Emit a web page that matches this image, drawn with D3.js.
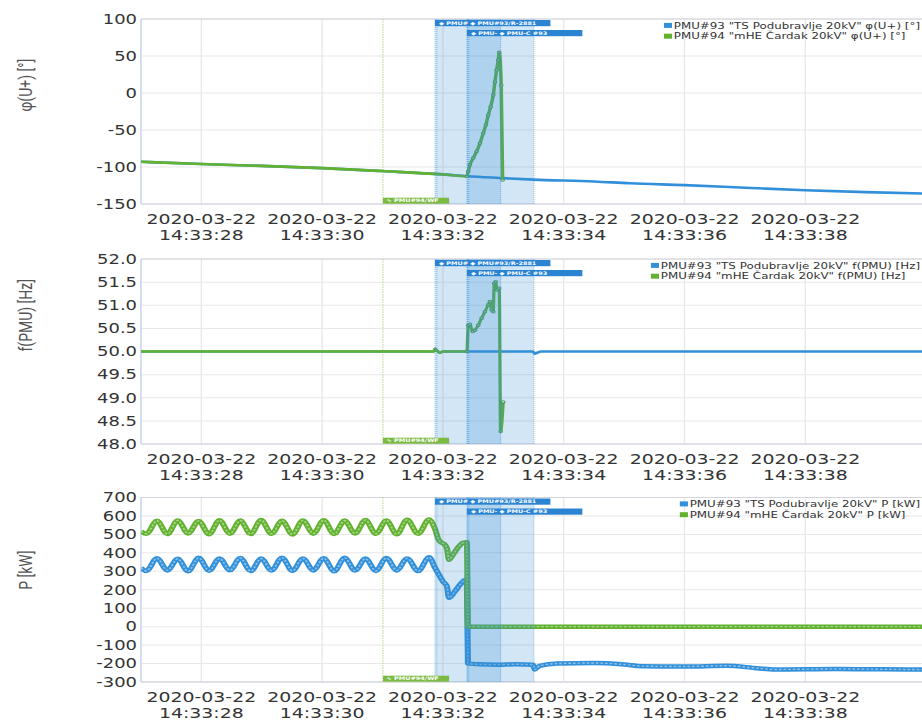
<!DOCTYPE html>
<html lang="en">
<head>
<meta charset="utf-8">
<title>PMU event 2020-03-22</title>
<script src="https://d3js.org/d3.v7.min.js"></script>
<style>
  body { margin: 0; background: #fff; }
  svg { display: block; }
  .ytick { font-family: "DejaVu Sans", Verdana, sans-serif; font-size: 13.3px; fill: #333; }
  .xtick { font-family: "DejaVu Sans", Verdana, sans-serif; font-size: 14px; fill: #333; }
  .title { font-family: Roboto, "Noto Sans", sans-serif; font-size: 14px; fill: #555; }
  .legend text { font-family: "DejaVu Sans", sans-serif; font-size: 8.8px; fill: #333; }
  .grid line { stroke: #e8e8e8; stroke-width: 1; }
  .flag text { font-family: "DejaVu Sans", sans-serif; font-size: 4.8px; font-weight: bold; fill: #fff; }
</style>
</head>
<body>
<script>
// seconds after 2020-03-22 14:33:00
var phiTime93 = [27, 28, 29, 30, 31, 32, 32.4, 33, 33.5, 34.5, 35.1, 36, 37, 38, 39, 40];
var phi93 = [-93, -96, -98.5, -101.5, -105.5, -110, -112.5, -115, -117, -119.5, -122, -124.5, -128, -131.5, -134, -136];
var phiTime94 = [27, 28, 29, 30, 31, 32, 32.397, 32.419, 32.447, 32.502, 32.558, 32.613, 32.667, 32.712, 32.75, 32.79, 32.833, 32.861, 32.889, 32.916, 32.932, 32.965, 32.988];
var phi94 = [-93, -96, -98.5, -101.5, -105.5, -110, -112.5, -106, -97, -88, -79, -68, -54.5, -43, -30, -18.5, -2.7, 15, 31, 44.6, 55, 10.4, -117.6];

var fTime93 = [27, 31.85, 31.87, 31.9, 31.95, 32.0, 33.49, 33.52, 33.56, 33.62, 40];
var f93 = [50.0, 50.0, 50.06, 50.02, 49.97, 50.0, 50.0, 49.95, 49.97, 50.0, 50.0];
var fTime94 = [27, 31.85, 31.87, 31.9, 31.95, 32.0, 32.397, 32.419, 32.447, 32.492, 32.53, 32.585, 32.641, 32.695, 32.75, 32.778, 32.806, 32.833, 32.849, 32.873, 32.899, 32.932, 32.955, 32.998];
var f94 = [50.0, 50.0, 50.06, 50.02, 49.97, 50.0, 50.0, 50.57, 50.59, 50.43, 50.46, 50.57, 50.72, 50.86, 51.01, 51.08, 50.9, 50.86, 51.47, 51.51, 51.33, 51.37, 48.27, 48.91];

// turning points of the power swing before the event (trough, peak, ...)
var pTurnTimes = [27.09, 27.265, 27.437, 27.609, 27.782, 27.955, 28.128, 28.30, 28.473, 28.646, 28.818, 28.99, 29.163, 29.336,
                  29.509, 29.682, 29.854, 30.026, 30.199, 30.372, 30.545, 30.717, 30.89, 31.063, 31.235, 31.407, 31.59, 31.77];
var pTurn93 = [302, 371, 305, 368, 300, 373, 303, 370, 306, 372, 301, 369, 304, 374, 302, 370, 305, 371, 300, 373, 304, 369, 302, 372, 305, 370, 301, 376];
var pTurn94 = [503, 574, 502, 576, 505, 573, 501, 577, 504, 575, 502, 578, 503, 574, 500, 576, 504, 577, 502, 575, 505, 578, 503, 576, 501, 579, 503, 581];
var pTailTime93 = [31.868, 31.95, 32.0, 32.066, 32.10, 32.199, 32.281, 32.364, 32.397, 32.414, 32.6, 32.9, 33.2, 33.49, 33.52, 33.6, 33.9, 34.5, 35.0, 35.3, 36.0, 36.7, 37.2, 37.5, 38.5, 39.3, 40];
var pTail93 = [320, 272, 245, 218, 157, 191, 227, 251, 236, -199, -204, -206, -204, -206, -232, -212, -200, -197, -205, -214, -216, -212, -225, -232, -229, -231, -233];
var pTailTime94 = [31.868, 31.93, 31.98, 32.03, 32.07, 32.10, 32.166, 32.248, 32.331, 32.397, 32.414, 40];
var pTail94 = [530, 470, 455, 445, 420, 362, 390, 428, 454, 457, 0, 0];
var pTime93 = [27].concat(pTurnTimes, pTailTime93);
var p93 = [318].concat(pTurn93, pTail93);
var pTime94 = [27].concat(pTurnTimes, pTailTime94);
var p94 = [517].concat(pTurn94, pTail94);

var phiTicks = [-150, -100, -50, 0, 50, 100];
var fTicks = [48.0, 48.5, 49.0, 49.5, 50.0, 50.5, 51.0, 51.5, 52.0];
var pTicks = [-300, -200, -100, 0, 100, 200, 300, 400, 500, 600, 700];

var bands = [[31.868, 33.507], [32.397, 32.96]];
var eventLines = [31.868, 31.9, 32.397, 32.41, 32.43, 32.955, 33.507];
var flagTimes = [31.868, 32.397];
var flagLabels = ["\u25C6 PMU#  \u25C6 PMU#93/R-2881", "\u25C6 PMU-  \u25C6 PMU-C #93"];
var wfTime = 31.007;
var wfLabel = "\u223F PMU#94/WF";

var legend93 = ['PMU#93 "TS Podubravlje 20kV" φ(U+) [°]', 'PMU#93 "TS Podubravlje 20kV" f(PMU) [Hz]', 'PMU#93 "TS Podubravlje 20kV" P [kW]'];
var legend94 = ['PMU#94 "mHE Čardak 20kV" φ(U+) [°]', 'PMU#94 "mHE Čardak 20kV" f(PMU) [Hz]', 'PMU#94 "mHE Čardak 20kV" P [kW]'];
var titles = ["φ(U+) [°]", "f(PMU) [Hz]", "P [kW]"];

var blue = "#3190d9", green = "#62b22f";

// the reference picture is widened horizontally, so draw narrow and stretch
var stretch = 1.35;
var W = 922 / stretch, H = 720;
var left = 104.4, legendRight = 681.5;

var svg = d3.select("body").append("svg")
    .attr("width", 922).attr("height", H)
    .attr("viewBox", "0 0 " + W + " " + H)
    .attr("preserveAspectRatio", "none");

var t0 = new Date(2020, 2, 22, 14, 33, 0);
function toDate(s) { return new Date(t0.getTime() + s * 1000); }

var x = d3.scaleTime().domain([toDate(27), toDate(40)]).range([left, left + 13 * 44.74]);
var fmtDate = d3.timeFormat("%Y-%m-%d"), fmtTime = d3.timeFormat("%H:%M:%S");
var xTicks = x.ticks(d3.timeSecond.every(2)).filter(function(d) { return x(d) > left + 5 && x(d) < W - 20; });

var panels = [
  {top: 19, bottom: 204, domain: [-150, 100], ticks: phiTicks, fmt: function(d) { return String(d); },
   series: [{t: phiTime93, v: phi93, color: blue, w: 2.6}, {t: phiTime94, v: phi94, color: green, w: 2.6, markFrom: 32.39}]},
  {top: 259, bottom: 444, domain: [48, 52], ticks: fTicks, fmt: function(d) { return d.toFixed(1); },
   series: [{t: fTime93, v: f93, color: blue, w: 2.4}, {t: fTime94, v: f94, color: green, w: 2.4, markFrom: 32.39}]},
  {top: 497.5, bottom: 682, domain: [-300, 700], ticks: pTicks, fmt: function(d) { return String(d); },
   series: [{t: pTime93, v: p93, color: blue, w: 4.5, beads: true}, {t: pTime94, v: p94, color: green, w: 4.5, beads: true}]}
];

panels.forEach(function(p, pi) {
  var y = d3.scaleLinear().domain(p.domain).range([p.bottom, p.top]);
  var g = svg.append("g");
  var clipId = "clip" + pi;
  svg.append("clipPath").attr("id", clipId).append("rect")
      .attr("x", left).attr("y", p.top - 3).attr("width", W - left).attr("height", p.bottom - p.top + 3);

  // grid
  var grid = g.append("g").attr("class", "grid");
  grid.selectAll(".h").data(p.ticks).enter().append("line")
      .attr("x1", left).attr("x2", W).attr("y1", function(d) { return y(d); }).attr("y2", function(d) { return y(d); });
  grid.selectAll(".v").data(xTicks).enter().append("line")
      .attr("x1", function(d) { return x(d); }).attr("x2", function(d) { return x(d); })
      .attr("y1", p.top).attr("y2", p.bottom);
  g.append("line").attr("x1", left).attr("x2", W).attr("y1", p.top).attr("y2", p.top).attr("stroke", "#d4d4dc");
  g.append("line").attr("x1", left).attr("x2", W).attr("y1", p.bottom).attr("y2", p.bottom).attr("stroke", "#ccd0dc");
  g.append("line").attr("x1", left).attr("x2", left).attr("y1", p.top).attr("y2", p.bottom).attr("stroke", "#ccd6eb").attr("stroke-width", 1.2);

  // PMU#94/WF marker line
  g.append("line").attr("x1", x(toDate(wfTime))).attr("x2", x(toDate(wfTime)))
      .attr("y1", p.top).attr("y2", p.bottom)
      .attr("stroke", "#b7dc92").attr("stroke-width", 0.8).attr("stroke-dasharray", "1.5 1");

  // series
  var plot = g.append("g").attr("clip-path", "url(#" + clipId + ")");
  var line = d3.line().x(function(d) { return x(d[0]); }).y(function(d) { return y(d[1]); }).curve(d3.curveMonotoneX);
  p.series.forEach(function(s) {
    var pts = s.t.map(function(t, i) { return [toDate(t), s.v[i]]; });
    plot.append("path").datum(pts).attr("d", line)
        .attr("fill", "none").attr("stroke", s.color).attr("stroke-width", s.w).attr("stroke-linejoin", "round");
    if (s.beads) {
      plot.append("path").datum(pts).attr("d", line)
          .attr("fill", "none").attr("stroke", "#fff").attr("stroke-opacity", 0.45)
          .attr("stroke-width", 1.4).attr("stroke-dasharray", "2 1.4");
    }
    if (s.markFrom !== undefined) {
      plot.selectAll(null).data(pts.filter(function(d, i) { return s.t[i] >= s.markFrom; })).enter().append("circle")
          .attr("cx", function(d) { return x(d[0]); }).attr("cy", function(d) { return y(d[1]); })
          .attr("r", 1.3).attr("fill", "#fff").attr("fill-opacity", 0.4)
          .attr("stroke", "#4f9e3e").attr("stroke-width", 0.9);
    }
  });

  // event bands drawn over the lines
  bands.forEach(function(b) {
    plot.append("rect").attr("x", x(toDate(b[0]))).attr("width", x(toDate(b[1])) - x(toDate(b[0])))
        .attr("y", p.top).attr("height", p.bottom - p.top)
        .attr("fill", "rgb(51,140,214)").attr("fill-opacity", 0.22);
  });
  eventLines.forEach(function(e) {
    plot.append("line").attr("x1", x(toDate(e))).attr("x2", x(toDate(e)))
        .attr("y1", p.top).attr("y2", p.bottom)
        .attr("stroke", "#3a8fd6").attr("stroke-opacity", 0.6).attr("stroke-width", 0.7).attr("stroke-dasharray", "1 1");
  });

  // flags
  flagTimes.forEach(function(ft, i) {
    var fg = g.append("g").attr("class", "flag").attr("transform", "translate(" + x(toDate(ft)) + "," + (p.top + 1 + i * 10) + ")");
    fg.append("rect").attr("width", 85.5).attr("height", 6.2).attr("fill", "#2a84d2");
    fg.append("text").attr("x", 3).attr("y", 4.8).text(flagLabels[i]);
  });
  var wg = g.append("g").attr("class", "flag").attr("transform", "translate(" + x(toDate(wfTime)) + "," + (p.bottom - 6.3) + ")");
  wg.append("rect").attr("width", 49).attr("height", 6).attr("fill", "#7cbb43");
  wg.append("text").attr("x", 2.5).attr("y", 4.6).attr("fill", "#e9f5dc").text(wfLabel);

  // y ticks
  g.selectAll(".ytick").data(p.ticks).enter().append("text").attr("class", "ytick")
      .attr("x", 101.5).attr("y", function(d) { return y(d); }).attr("dy", "0.36em")
      .attr("text-anchor", "end").text(p.fmt);
  // x ticks
  var xt = g.selectAll(".xtick").data(xTicks).enter().append("text").attr("class", "xtick")
      .attr("text-anchor", "middle").attr("transform", function(d) { return "translate(" + x(d) + "," + p.bottom + ")"; });
  xt.append("tspan").attr("x", 0).attr("y", 20).text(fmtDate);
  xt.append("tspan").attr("x", 0).attr("y", 36).text(fmtTime);

  // axis title
  g.append("text").attr("class", "title")
      .attr("transform", "translate(24," + ((p.top + p.bottom) / 2) + ") rotate(-90)")
      .attr("text-anchor", "start").text(titles[pi]);

  // legend
  var lg = g.append("g").attr("class", "legend");
  var rows = [legend93[pi], legend94[pi]].map(function(txt, i) {
    var r = lg.append("g").attr("transform", "translate(0," + (p.top + 6.5 + i * 10.8) + ")");
    r.append("rect").attr("x", 0).attr("y", -2.6).attr("width", 6).attr("height", 5).attr("fill", i === 0 ? blue : green);
    return r.append("text").attr("x", 7.3).attr("dy", "0.35em").text(txt);
  });
  var maxLen = d3.max(rows, function(t) { return t.node().getComputedTextLength(); });
  lg.attr("transform", "translate(" + (legendRight - 7.3 - maxLen) + ",0)");
});
</script>
</body>
</html>
